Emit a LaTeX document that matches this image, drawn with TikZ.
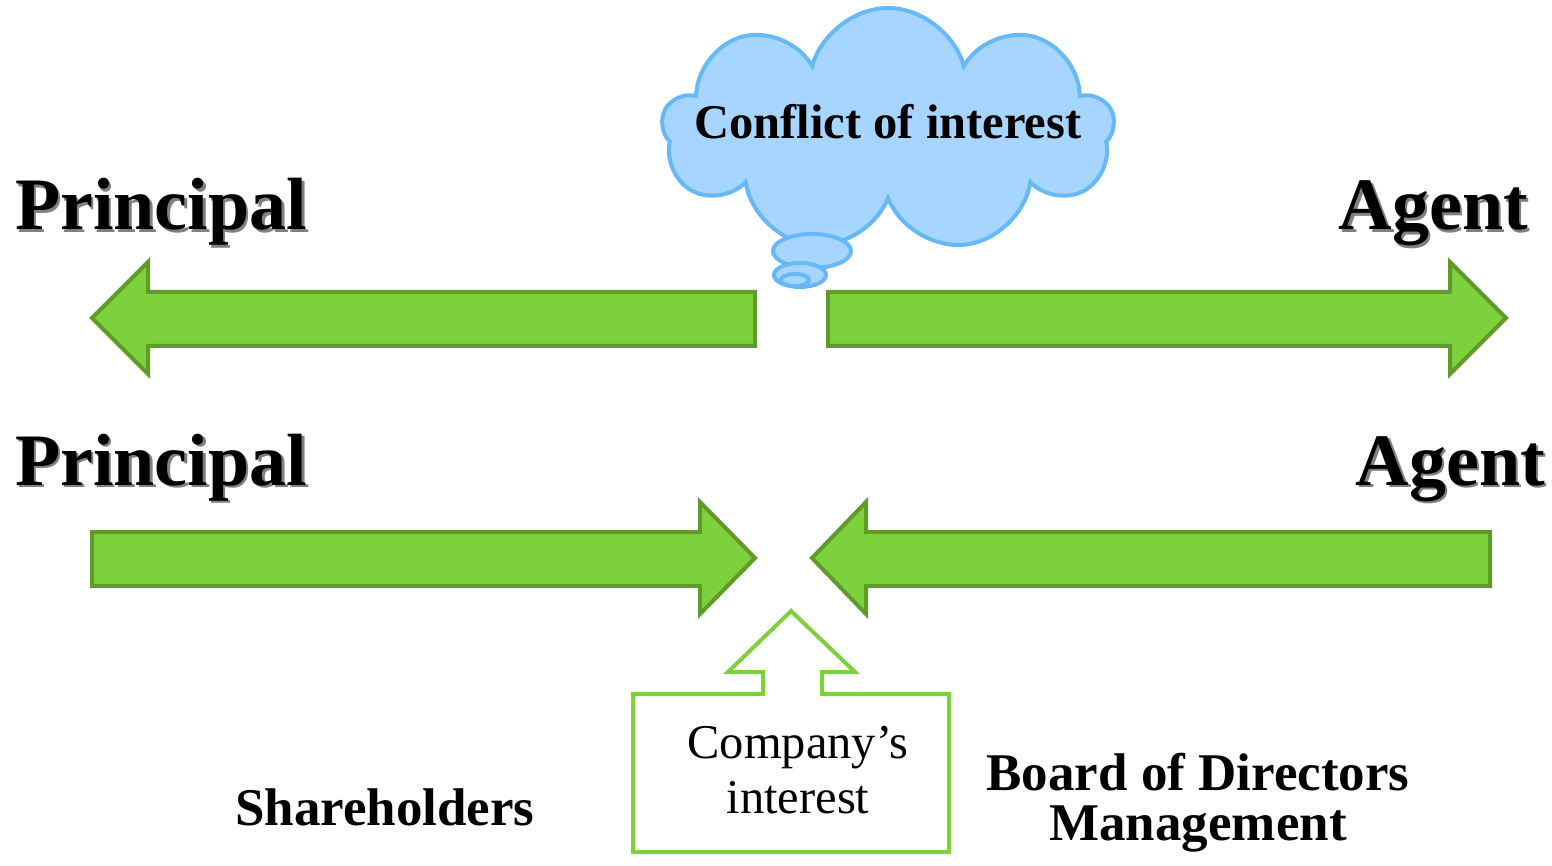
\documentclass[tikz,border=0pt]{standalone}
\usepackage{fontspec}
\setmainfont{Liberation Serif}
\usetikzlibrary{shapes.symbols}
\definecolor{arrowfill}{HTML}{7DD13D}
\definecolor{arrowline}{HTML}{5E9B2B}
\definecolor{cloudfill}{HTML}{A6D6FF}
\definecolor{cloudline}{HTML}{66B8F8}
\def\shadowed#1{\rlap{\kern2.5pt\raisebox{-2.5pt}{\textcolor{gray}{#1}}}#1}
\tikzset{bigarrow/.style={fill=arrowfill,draw=arrowline,line width=4pt,line join=miter}}
\tikzset{thought/.style={fill=cloudfill,draw=cloudline,line width=4pt}}
\tikzset{role/.style={font=\fontsize{74}{80}\selectfont\bfseries,inner sep=0pt}}
\tikzset{party/.style={font=\fontsize{53}{50}\selectfont\bfseries,inner sep=0pt,align=center}}

\begin{document}
\begin{tikzpicture}[x=1pt,y=-1pt]
        \useasboundingbox (0,0) rectangle (1552,866);
        % upper pair: pulling apart
        \draw[bigarrow] (755,292) -- (148,292) -- (148,262) -- (92,318) -- (148,374) -- (148,346) -- (755,346) -- cycle;
        \draw[bigarrow] (828,292) -- (1450,292) -- (1450,262) -- (1506,318) -- (1450,374) -- (1450,346) -- (828,346) -- cycle;
        % lower pair: pulling together
        \draw[bigarrow] (92,532) -- (700,532) -- (700,502) -- (755,558) -- (700,614) -- (700,586) -- (92,586) -- cycle;
        \draw[bigarrow] (1490,532) -- (866,532) -- (866,502) -- (812,558) -- (866,614) -- (866,586) -- (1490,586) -- cycle;
        \node[cloud,thought,cloud puffs=9,cloud ignores aspect,minimum width=452pt,minimum height=244pt,
              font=\fontsize{48.5}{52}\selectfont\bfseries,inner sep=0pt] (conflict) at (888,130)
              {\raisebox{18pt}{\makebox[100pt]{Conflict of interest}}};
        % thought bubbles
        \draw[thought] (812,251) ellipse (39pt and 17pt);
        \draw[thought] (800,275) ellipse (26pt and 12pt);
        \draw[thought] (795,280) ellipse (14pt and 6pt);
        \node[role,anchor=base west](principalA) at (15,230) {\shadowed{Principal}};
        \node[role,anchor=base east](agentA) at (1528,230) {\shadowed{Agent}};
        \node[role,anchor=base west](principalB) at (15,485) {\shadowed{Principal}};
        \node[role,anchor=base east](agentB) at (1545,485) {\shadowed{Agent}};
        \draw[draw=arrowfill,fill=white,line width=4pt] (633,694) -- (763,694) -- (763,672) -- (728,672) -- (791,611)
              -- (855,672) -- (822,672) -- (822,694) -- (949,694) -- (949,852) -- (633,852) -- cycle;
        \node[font=\fontsize{48.5}{55}\selectfont,align=center,anchor=base,inner sep=0pt](company) at (798,813) {Company’s\\interest};
        \node[party,anchor=base west](share) at (235,825) {Shareholders};
        \node[party,anchor=base](board) at (1198,840) {Board of Directors\\Management};
\end{tikzpicture}
\end{document}
